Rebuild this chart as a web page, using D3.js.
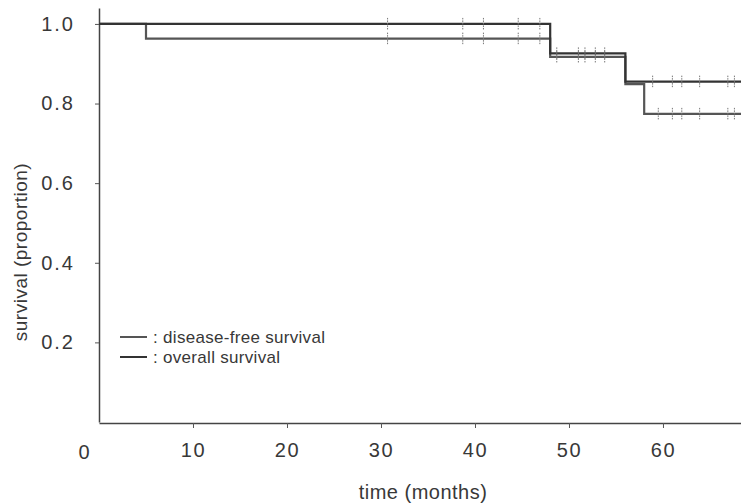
<!DOCTYPE html>
<html>
<head>
<meta charset="utf-8">
<script src="https://cdn.jsdelivr.net/npm/d3@7"></script>
<style>
  body { margin: 0; background: #fff; }
  svg text { font-family: "Liberation Sans", Arial, sans-serif; fill: #383838; }
</style>
</head>
<body>
<svg id="km"></svg>
<script>
// Kaplan-Meier curves
const xTicks = [10, 20, 30, 40, 50, 60];
const yTicks = [0.2, 0.4, 0.6, 0.8, 1.0];

const overallTimes = [0, 48, 56, 68.3];
const overallSurv = [1.0, 0.926, 0.855, 0.855];

const dfsTimes = [0, 5, 48, 56, 58, 68.3];
const dfsSurv = [1.0, 0.963, 0.917, 0.849, 0.774, 0.774];

// censored observations (small vertical ticks)
const overallCensor = [30.7, 38.7, 40.9, 44.6, 46.9, 48.7, 51, 51.7, 52.8, 53.8, 58.9, 61, 62, 63.9, 66.9, 67.6];
const dfsCensor = [30.7, 38.7, 40.9, 44.6, 46.9, 48.7, 51, 51.7, 52.8, 53.8, 59.5, 61, 62, 63.9, 66.9, 67.6];

const legendLabels = ["disease-free survival", "overall survival"];

var width = 741;
var height = 503;

var svg = d3.select("#km")
  .attr("width", width)
  .attr("height", height);

var x = d3.scaleLinear().domain([0, 68.3]).range([99, 741]);
var y = d3.scaleLinear().domain([0, 1.04]).range([422, 8]);

// axes
svg.append("g")
  .attr("transform", "translate(0,423)")
  .call(d3.axisBottom(x).tickValues(xTicks).tickSize(5).tickPadding(15).tickSizeOuter(0))
  .call(g => g.select(".domain").attr("stroke", "#444").attr("stroke-width", 1.5))
  .call(g => g.selectAll(".tick line").attr("stroke", "#555"))
  .call(g => g.selectAll(".tick text").attr("font-size", 20).attr("letter-spacing", 1.5).attr("fill", "#383838"));

svg.append("g")
  .attr("transform", "translate(99,0)")
  .call(d3.axisLeft(y).tickValues(yTicks).tickFormat(d3.format(".1f")).tickSize(4).tickPadding(20).tickSizeOuter(0))
  .call(g => g.select(".domain").attr("stroke", "#444").attr("stroke-width", 1.5))
  .call(g => g.selectAll(".tick line").attr("stroke", "#555"))
  .call(g => g.selectAll(".tick text").attr("font-size", 20).attr("letter-spacing", 2).attr("fill", "#383838"));

// shared origin label
svg.append("text")
  .attr("x", 84)
  .attr("y", 459)
  .attr("text-anchor", "middle")
  .attr("font-size", 20)
  .text("0");

// axis titles
svg.append("text")
  .attr("x", 423)
  .attr("y", 499)
  .attr("text-anchor", "middle")
  .attr("font-size", 20)
  .attr("letter-spacing", 0.5)
  .text("time (months)");

svg.append("text")
  .attr("transform", "translate(27,252) rotate(-90)")
  .attr("text-anchor", "middle")
  .attr("font-size", 19)
  .attr("letter-spacing", 0.5)
  .text("survival (proportion)");

// step curves
var step = d3.line()
  .x(d => x(d[0]))
  .y(d => y(d[1]))
  .curve(d3.curveStepAfter);

var curves = [
  { times: dfsTimes, surv: dfsSurv, censor: dfsCensor, color: "#555" },
  { times: overallTimes, surv: overallSurv, censor: overallCensor, color: "#333" }
];

curves.forEach(function (c) {
  var pts = d3.zip(c.times, c.surv);
  svg.append("path")
    .datum(pts)
    .attr("d", step)
    .attr("fill", "none")
    .attr("stroke", c.color)
    .attr("stroke-width", 2.2);

  // value of the step function at time t
  var at = function (t) {
    var i = d3.bisectRight(c.times, t) - 1;
    return c.surv[Math.max(0, i)];
  };

  svg.selectAll(null)
    .data(c.censor)
    .join("line")
    .attr("x1", d => x(d))
    .attr("x2", d => x(d))
    .attr("y1", d => y(at(d)) - 6)
    .attr("y2", d => y(at(d)) + 6)
    .attr("stroke", "#777")
    .attr("stroke-width", 1)
    .attr("stroke-dasharray", "1.5 1");
});

// legend
var legend = svg.append("g").attr("transform", "translate(120,337)");
legendLabels.forEach(function (lab, i) {
  var row = legend.append("g").attr("transform", `translate(0,${i * 20})`);
  row.append("line")
    .attr("x1", 0).attr("x2", 27)
    .attr("y1", 0).attr("y2", 0)
    .attr("stroke", curves[i].color)
    .attr("stroke-width", 2);
  row.append("text")
    .attr("x", 33)
    .attr("y", 6)
    .attr("font-size", 17)
    .attr("letter-spacing", 0.3)
    .text(": " + lab);
});
</script>
</body>
</html>
